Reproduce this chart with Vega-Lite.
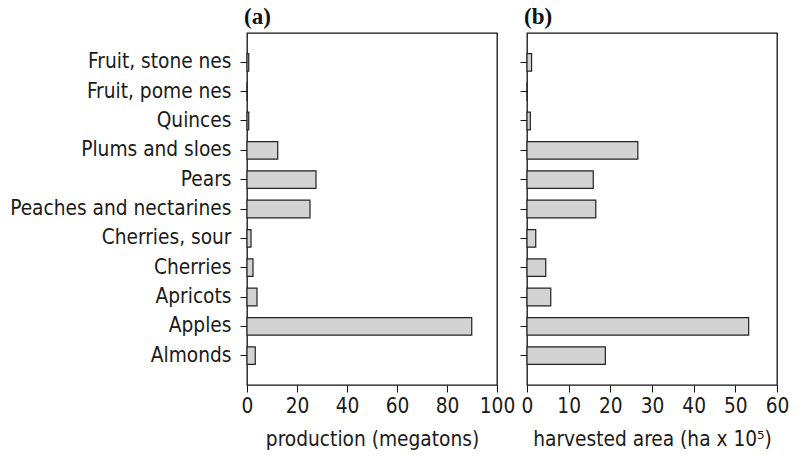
{
  "$schema": "https://vega.github.io/schema/vega-lite/v6.json",
  "background": "white",
  "padding": {"left": 9, "top": 5, "right": 5, "bottom": 5},
  "spacing": 30,
  "bounds": "flush",
  "config": {
    "font": "DejaVu Sans Condensed",
    "view": {"stroke": "#111", "strokeWidth": 1.3},
    "axis": {
      "labelFont": "DejaVu Sans Condensed",
      "labelFontSize": 20.7,
      "labelColor": "#1a1a1a",
      "labelLimit": 400,
      "labelFlush": false,
      "labelOverlap": false,
      "titleFont": "DejaVu Sans Condensed",
      "titleFontSize": 20.7,
      "titleFontWeight": "normal",
      "titleColor": "#1a1a1a",
      "domainColor": "#111",
      "tickColor": "#111",
      "tickSize": 7,
      "grid": false
    }
  },
  "data": {
    "values": [
      {"fruit": "Fruit, stone nes", "production": 0.7, "area": 1.1},
      {"fruit": "Fruit, pome nes", "production": 0.05, "area": 0.05},
      {"fruit": "Quinces", "production": 0.7, "area": 0.8},
      {"fruit": "Plums and sloes", "production": 12.3, "area": 26.6},
      {"fruit": "Pears", "production": 27.6, "area": 15.9},
      {"fruit": "Peaches and nectarines", "production": 25.2, "area": 16.5},
      {"fruit": "Cherries, sour", "production": 1.6, "area": 2.1},
      {"fruit": "Cherries", "production": 2.4, "area": 4.5},
      {"fruit": "Apricots", "production": 4.0, "area": 5.7},
      {"fruit": "Apples", "production": 89.9, "area": 53.2},
      {"fruit": "Almonds", "production": 3.3, "area": 18.8}
    ]
  },
  "hconcat": [
    {
      "width": 250,
      "height": 352,
      "title": {"text": "(a)", "anchor": "start", "frame": "group", "font": "Liberation Serif", "fontSize": 23, "fontWeight": "bold", "color": "#111", "offset": 4, "dx": -3},
      "mark": {"type": "bar", "fill": "#d3d3d3", "stroke": "#222", "strokeWidth": 1.2},
      "encoding": {
        "y": {
          "field": "fruit", "type": "nominal",
          "sort": ["Fruit, stone nes", "Fruit, pome nes", "Quinces", "Plums and sloes", "Pears", "Peaches and nectarines", "Cherries, sour", "Cherries", "Apricots", "Apples", "Almonds"],
          "scale": {"paddingInner": 0.4, "paddingOuter": 0.7},
          "axis": {"title": null, "labelPadding": 9, "domain": false}
        },
        "x": {
          "field": "production", "type": "quantitative",
          "scale": {"domain": [0, 100], "nice": false},
          "axis": {"title": "production (megatons)", "values": [0, 20, 40, 60, 80, 100], "labelPadding": 4, "titlePadding": 14, "domain": false}
        }
      }
    },
    {
      "width": 250,
      "height": 352,
      "title": {"text": "(b)", "anchor": "start", "frame": "group", "font": "Liberation Serif", "fontSize": 23, "fontWeight": "bold", "color": "#111", "offset": 4, "dx": -3},
      "mark": {"type": "bar", "fill": "#d3d3d3", "stroke": "#222", "strokeWidth": 1.2},
      "encoding": {
        "y": {
          "field": "fruit", "type": "nominal",
          "sort": ["Fruit, stone nes", "Fruit, pome nes", "Quinces", "Plums and sloes", "Pears", "Peaches and nectarines", "Cherries, sour", "Cherries", "Apricots", "Apples", "Almonds"],
          "scale": {"paddingInner": 0.4, "paddingOuter": 0.7},
          "axis": {"title": null, "labels": false, "domain": false}
        },
        "x": {
          "field": "area", "type": "quantitative",
          "scale": {"domain": [0, 60], "nice": false},
          "axis": {"title": "harvested area (ha x 10⁵)", "values": [0, 10, 20, 30, 40, 50, 60], "labelPadding": 4, "titlePadding": 14, "domain": false}
        }
      }
    }
  ]
}
